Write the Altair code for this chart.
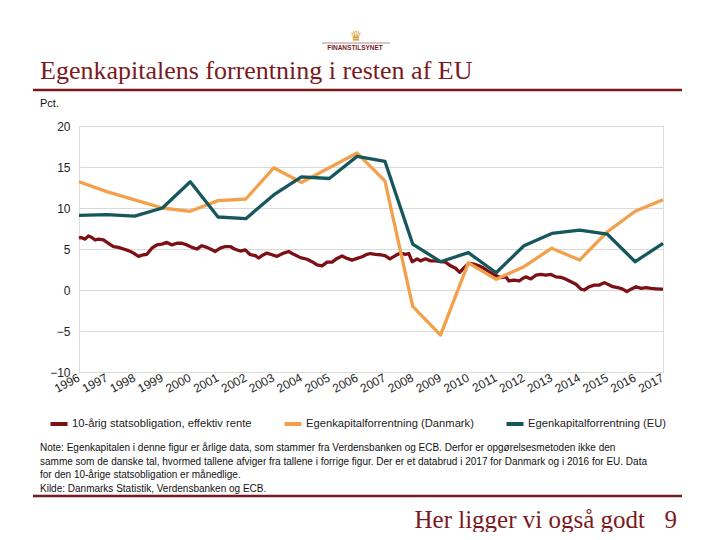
import altair as alt
import pandas as pd

# ---------------- data ----------------
years = list(range(1996, 2018))

dk_roe = [13.2, 12.0, 11.0, 10.0, 9.6, 10.9, 11.1, 14.9, 13.1, 14.9, 16.7, 13.3,
          -2.0, -5.5, 3.3, 1.3, 2.85, 5.1, 3.65, 7.1, 9.6, 11.0]
eu_roe = [9.1, 9.2, 9.0, 10.0, 13.2, 8.9, 8.7, 11.6, 13.8, 13.6, 16.3, 15.7,
          5.6, 3.45, 4.55, 2.1, 5.4, 6.9, 7.3, 6.8, 3.45, 5.7]

bond_t = [1996.0, 1996.07, 1996.22, 1996.34, 1996.46, 1996.58, 1996.70, 1996.88,
          1997.06, 1997.24, 1997.42, 1997.60, 1997.78, 1997.96, 1998.14, 1998.32,
          1998.44, 1998.62, 1998.80, 1998.98, 1999.16, 1999.34, 1999.52, 1999.70,
          1999.88, 2000.06, 2000.24, 2000.42, 2000.60, 2000.78, 2000.90, 2001.08,
          2001.26, 2001.44, 2001.59, 2001.80, 2001.98, 2002.16, 2002.34, 2002.46,
          2002.58, 2002.76, 2002.94, 2003.12, 2003.36, 2003.54, 2003.72, 2003.96,
          2004.20, 2004.38, 2004.56, 2004.74, 2004.92, 2005.10, 2005.28, 2005.46,
          2005.64, 2005.82, 2006.00, 2006.18, 2006.36, 2006.48, 2006.66, 2006.84,
          2007.02, 2007.18, 2007.38, 2007.56, 2007.74, 2007.86, 2007.98, 2008.16,
          2008.28, 2008.46, 2008.64, 2008.82, 2009.00, 2009.18, 2009.36, 2009.54,
          2009.69, 2009.84, 2010.02, 2010.20, 2010.38, 2010.56, 2010.74, 2010.99,
          2011.17, 2011.35, 2011.46, 2011.64, 2011.83, 2011.95, 2012.07, 2012.25,
          2012.43, 2012.61, 2012.79, 2012.97, 2013.15, 2013.33, 2013.51, 2013.69,
          2013.87, 2014.05, 2014.17, 2014.35, 2014.53, 2014.71, 2014.89, 2015.07,
          2015.19, 2015.37, 2015.55, 2015.70, 2015.85, 2016.03, 2016.21, 2016.39,
          2016.57, 2016.75, 2016.95, 2017.0]
bond_v = [6.3, 6.4, 6.2, 6.6, 6.4, 6.1, 6.2, 6.1,
          5.7, 5.3, 5.2, 5.0, 4.8, 4.5, 4.1, 4.3,
          4.35, 5.1, 5.5, 5.6, 5.8, 5.5, 5.7, 5.7,
          5.5, 5.2, 5.0, 5.4, 5.2, 4.9, 4.7, 5.1,
          5.3, 5.3, 5.0, 4.75, 4.9, 4.3, 4.2, 3.9,
          4.2, 4.5, 4.3, 4.1, 4.5, 4.7, 4.35, 3.95,
          3.75, 3.45, 3.05, 2.95, 3.4, 3.4, 3.85, 4.15,
          3.85, 3.65, 3.85, 4.05, 4.35, 4.45, 4.35, 4.3,
          4.15, 3.8, 4.2, 4.5, 4.35, 4.45, 3.45, 3.8,
          3.55, 3.8, 3.55, 3.55, 3.45, 3.4, 2.95, 2.65,
          2.15, 2.7, 3.25, 3.15, 2.95, 2.65, 2.25, 1.75,
          1.5, 1.6, 1.1, 1.2, 1.1, 1.4, 1.6, 1.35,
          1.8, 1.9, 1.8, 1.9, 1.6, 1.55, 1.3, 1.0,
          0.7, 0.1, 0.0, 0.4, 0.6, 0.6, 0.9, 0.6,
          0.4, 0.3, 0.1, -0.2, 0.1, 0.4, 0.2, 0.3,
          0.2, 0.15, 0.1, 0.1]
assert len(bond_t) == len(bond_v)

y_ticks = [-10, -5, 0, 5, 10, 15, 20]

S_BOND = "10-årig statsobligation, effektiv rente"
S_DK = "Egenkapitalforrentning (Danmark)"
S_EU = "Egenkapitalforrentning (EU)"
series = [S_BOND, S_DK, S_EU]

title_text = "Egenkapitalens forrentning i resten af EU"
unit_text = "Pct."
note_lines = [
    "Note: Egenkapitalen i denne figur er årlige data, som stammer fra Verdensbanken og ECB. Derfor er opgørelsesmetoden ikke den",
    "samme som de danske tal, hvormed tallene afviger fra tallene i forrige figur. Der er et databrud i 2017 for Danmark og i 2016 for EU. Data",
    "for den 10-årige statsobligation er månedlige.",
    "Kilde: Danmarks Statistik, Verdensbanken og ECB.",
]
footer_text = "Her ligger vi også godt"
page_no = "9"
logo_text = "FINANSTILSYNET"

# ---------------- styling ----------------
RED = "#7d1015"
ORANGE = "#f3a04c"
TEAL = "#16575d"
BRAND = "#7a1a1e"
W, H = 584, 246
OX, OY = 79, 126  # page position of plot origin

rows = [{"t": t, "v": v, "s": S_BOND} for t, v in zip(bond_t, bond_v)]
rows += [{"t": y, "v": v, "s": S_DK} for y, v in zip(years, dk_roe)]
rows += [{"t": y, "v": v, "s": S_EU} for y, v in zip(years, eu_roe)]
df = pd.DataFrame(rows)

color = alt.Color(
    "s:N",
    scale=alt.Scale(domain=series, range=[RED, ORANGE, TEAL]),
    legend=alt.Legend(
        title=None, orient="none", legendX=48 - OX, legendY=413 - OY,
        direction="horizontal", columns=3, symbolType="stroke",
        symbolStrokeWidth=4, symbolSize=290, labelFontSize=11.2,
        labelFont="Liberation Sans", labelColor="#222222", columnPadding=24,
        labelOffset=2, symbolOffset=0, labelLimit=500,
    ),
)

x_enc = alt.X(
    "t:Q",
    scale=alt.Scale(domain=[1996, 2017], nice=False, zero=False),
    axis=alt.Axis(values=years, format="d", labelAngle=332, labelAlign="right",
                  labelBaseline="top", grid=False, domain=False, ticks=False,
                  labelPadding=0, labelOffset=-3, title=None, labelFontSize=12,
                  labelFont="Liberation Sans", labelColor="#222222",
                  labelOverlap=False, labelFlush=False),
)
y_enc = alt.Y(
    "v:Q",
    scale=alt.Scale(domain=[-10, 20], nice=False, zero=False),
    axis=alt.Axis(values=y_ticks, grid=True, gridColor="#d9d9d9", gridWidth=1,
                  domain=False, ticks=False, labelPadding=9, title=None,
                  labelFontSize=12, labelFont="Liberation Sans",
                  labelColor="#222222"),
)

base = alt.Chart(df)
layers = []
for s in series:
    layers.append(
        base.transform_filter(alt.datum.s == s)
        .mark_line(strokeWidth=3.3, strokeJoin="round")
        .encode(x=x_enc, y=y_enc, color=color)
    )

one = pd.DataFrame({"k": [0]})


def txt(text, px, py, size, font, col, align="left", baseline="alphabetic", weight="normal"):
    return alt.Chart(one).mark_text(
        align=align, baseline=baseline, fontSize=size, font=font,
        color=col, fontWeight=weight,
    ).encode(x=alt.value(px - OX), y=alt.value(py - OY), text=alt.value(text))


def hrule(x1, x2, py, col, width):
    return alt.Chart(one).mark_rule(color=col, strokeWidth=width).encode(
        x=alt.value(x1 - OX), x2=alt.value(x2 - OX), y=alt.value(py - OY))


deco = [
    txt("♛", 356, 41, 14, "DejaVu Sans", "#d7a23e", align="center"),
    txt(logo_text, 355, 50, 6.5, "Liberation Sans", BRAND, align="center", weight="bold"),
    hrule(322, 390, 43, "#9a7070", 0.8),
    txt(title_text, 40, 79, 26, "Liberation Serif", BRAND),
    hrule(33, 682, 90, BRAND, 2.5),
    txt(unit_text, 40, 107, 11, "Liberation Sans", "#111111"),
    hrule(33, 682, 496, BRAND, 2.5),
    txt(footer_text, 645, 528, 25, "Liberation Serif", BRAND, align="right"),
    txt(page_no, 677, 528, 25, "Liberation Serif", BRAND, align="right"),
]
for i, line in enumerate(note_lines):
    deco.append(txt(line, 40, 451 + i * 13.5, 10, "Liberation Sans", "#111111"))

chart = alt.layer(*layers, *deco).properties(
    width=W, height=H,
    autosize=alt.AutoSizeParams(type="none"),
    padding={"left": OX - 8, "top": OY - 8, "right": 720 - 16 - (OX - 8) - W,
             "bottom": 524 - (OY - 8) - H},
).configure_view(stroke=None).configure(background="white")

chart.save("out.html", embed_options={"renderer": "svg", "actions": False})
